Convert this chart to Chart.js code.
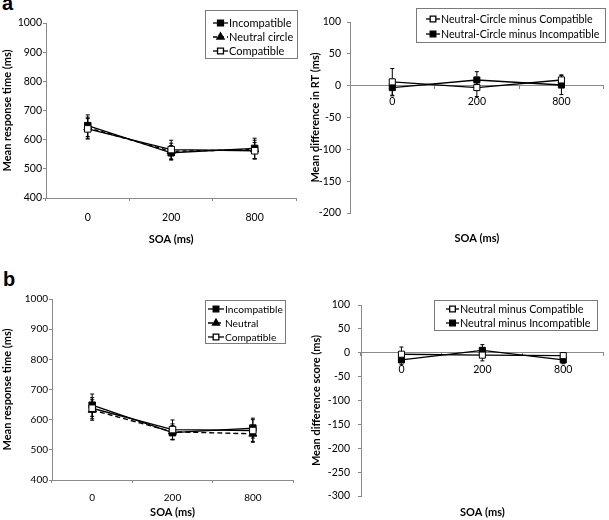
<!DOCTYPE html>
<html>
<head>
<meta charset="utf-8">
<script src="https://cdn.jsdelivr.net/npm/chart.js@4.4.1/dist/chart.umd.min.js"></script>
<style>
  body { margin: 0; background: #fff; }
  #wrap { position: relative; width: 609px; height: 520px; overflow: hidden; }
  #wrap canvas { position: absolute; }
  .tag { position: absolute; font: bold 20px Arial, "Liberation Sans", sans-serif; color: #000; }
</style>
</head>
<body>
<div id="wrap">
  <div class="tag" style="left:2px;top:-8px;">a</div>
  <div class="tag" style="left:3px;top:268px;">b</div>
  <canvas id="aLeft"  width="302" height="250" style="left:0;top:0;"></canvas>
  <canvas id="aRight" width="309" height="250" style="left:300px;top:0;"></canvas>
  <canvas id="bLeft"  width="300" height="260" style="left:0;top:260px;"></canvas>
  <canvas id="bRight" width="309" height="260" style="left:300px;top:260px;"></canvas>
</div>
<script>
// SOA categories, shared by all four panels
const soaLabels = ['0', '200', '800'];

// panel a, left: mean response time (ms) with error bars
const aIncompatible = [648, 555, 570];
const aIncompatibleErr = [37, 25, 35];
const aNeutralCircle = [641, 560, 566];
const aNeutralCircleErr = [36, 28, 32];
const aCompatible = [637, 566, 562];
const aCompatibleErr = [35, 32, 28];

// panel a, right: difference scores
const aNcMinusCompatible = [6, -3, 9];
const aNcMinusCompatibleErr = [21, 14, 8];
const aNcMinusIncompatible = [-3, 9, 1];
const aNcMinusIncompatibleErr = [13, 13, 15];

// panel b, left
const bIncompatible = [648, 557, 572];
const bIncompatibleErr = [37, 24, 33];
const bNeutral = [632, 560, 553];
const bNeutralErr = [34, 26, 28];
const bCompatible = [638, 567, 564];
const bCompatibleErr = [35, 32, 36];

// panel b, right
const bNMinusCompatible = [-3, -5, -6];
const bNMinusCompatibleErr = [15, 12, 6];
const bNMinusIncompatible = [-15, 5, -15];
const bNMinusIncompatibleErr = [10, 12, 8];

// tick ranges
const rtTicks = { min: 400, max: 1000, step: 100 };
const diffTicksA = { min: -200, max: 100, step: 50 };
const diffTicksB = { min: -300, max: 100, step: 50 };

const FONT = 'Lato, "Open Sans", sans-serif';
const AXIS_GREY = '#8a8a8a';

// styles for the three kinds of marker
const filledSquare = { pointStyle: 'rect', pointBackgroundColor: '#000', pointBorderColor: '#000' };
const openSquare = { pointStyle: 'rect', pointBackgroundColor: '#fff', pointBorderColor: '#000' };
const filledTriangle = { pointStyle: 'triangle', pointBackgroundColor: '#000', pointBorderColor: '#000' };

// error bars under the markers
const errorBarPlugin = {
  id: 'errorBars',
  beforeDatasetsDraw(chart) {
    const ctx = chart.ctx;
    const yScale = chart.scales.y;
    chart.data.datasets.forEach((ds, i) => {
      if (!ds.errors) return;
      const meta = chart.getDatasetMeta(i);
      meta.data.forEach((pt, j) => {
        const top = yScale.getPixelForValue(ds.data[j] + ds.errors[j]);
        const bot = yScale.getPixelForValue(ds.data[j] - ds.errors[j]);
        ctx.save();
        ctx.strokeStyle = '#000';
        ctx.lineWidth = 1;
        ctx.beginPath();
        ctx.moveTo(pt.x, top); ctx.lineTo(pt.x, bot);
        ctx.moveTo(pt.x - 2, top); ctx.lineTo(pt.x + 2, top);
        ctx.moveTo(pt.x - 2, bot); ctx.lineTo(pt.x + 2, bot);
        ctx.stroke();
        ctx.restore();
      });
    });
  }
};

// boxed legend drawn at a fixed spot of the canvas
const boxLegendPlugin = {
  id: 'boxLegend',
  afterDraw(chart, args, opts) {
    if (!opts.box) return;
    const ctx = chart.ctx;
    const b = opts.box;
    ctx.save();
    ctx.strokeStyle = '#7a7a7a';
    ctx.lineWidth = 1;
    ctx.fillStyle = '#fff';
    ctx.fillRect(b.x, b.y, b.w, b.h);
    ctx.strokeRect(b.x + 0.5, b.y + 0.5, b.w, b.h);
    ctx.font = opts.fontSize + 'px ' + FONT;
    ctx.textBaseline = 'middle';
    chart.data.datasets.forEach((ds, i) => {
      const y = b.y + opts.firstRow + i * opts.rowGap;
      const x0 = b.x + opts.lineStart;
      const x1 = x0 + opts.lineLen;
      ctx.strokeStyle = '#000';
      ctx.lineWidth = 1.3;
      ctx.setLineDash(ds.borderDash || []);
      ctx.beginPath();
      ctx.moveTo(x0, y); ctx.lineTo(x1, y);
      ctx.stroke();
      ctx.setLineDash([]);
      ctx.fillStyle = ds.pointBackgroundColor;
      ctx.strokeStyle = ds.pointBorderColor;
      Chart.helpers.drawPoint(ctx, {
        pointStyle: ds.pointStyle, radius: opts.markerRadius, rotation: 0, borderWidth: 1
      }, (x0 + x1) / 2, y);
      ctx.fillStyle = '#000';
      ctx.fillText(ds.label, x1 + 1, y + 0.5);
    });
    ctx.restore();
  }
};

function series(label, data, errors, marker, extra) {
  return Object.assign({
    label: label,
    data: data,
    errors: errors,
    borderColor: '#000',
    borderWidth: 1.4,
    pointRadius: 4.6,
    pointBorderWidth: 1,
    tension: 0,
    fill: false
  }, marker, extra || {});
}

function makePanel(id, datasets, p) {
  return new Chart(document.getElementById(id), {
    type: 'line',
    data: { labels: soaLabels, datasets: datasets },
    plugins: [errorBarPlugin, boxLegendPlugin],
    options: {
      responsive: false,
      animation: false,
      events: [],
      layout: { padding: p.padding },
      plugins: {
        legend: { display: false },
        tooltip: { enabled: false },
        boxLegend: p.legend
      },
      scales: {
        x: {
          type: 'category',
          offset: true,
          position: p.xPosition,
          border: { color: AXIS_GREY, width: 1 },
          grid: { display: true, drawOnChartArea: false, offset: true, tickLength: 3, color: AXIS_GREY },
          ticks: { color: '#000', padding: p.xTickPad, font: { family: FONT, size: p.tickSize } },
          title: {
            display: true, text: 'SOA (ms)', color: '#000',
            padding: { top: 0, bottom: p.xTitlePad },
            font: { family: FONT, size: 11, weight: 'bold' }
          },
          afterFit(scale) { scale.height = p.xHeight; }
        },
        y: {
          min: p.yTicks.min,
          max: p.yTicks.max,
          border: { color: AXIS_GREY, width: 1 },
          grid: { display: true, drawOnChartArea: false, tickLength: 3, color: AXIS_GREY },
          ticks: {
            stepSize: p.yTicks.step, color: '#000', padding: p.yTickPad,
            font: { family: FONT, size: p.tickSize },
            callback: (value) => String(value)
          },
          title: {
            display: true, text: p.yTitle, color: '#000',
            padding: { top: p.yTitlePad, bottom: 0 },
            font: { family: FONT, size: 11, weight: 'bold' }
          },
          afterFit(scale) { scale.width = p.yWidth; }
        }
      }
    }
  });
}

// a, left
makePanel('aLeft', [
  series('Incompatible', aIncompatible, aIncompatibleErr, filledSquare, { order: 2 }),
  series('Neutral circle', aNeutralCircle, aNeutralCircleErr, filledTriangle, { borderDash: [4, 3], order: 1 }),
  series('Compatible', aCompatible, aCompatibleErr, openSquare, { order: 0 })
], {
  padding: { top: 23, left: 0, right: 4, bottom: 0 },
  yWidth: 46, xHeight: 52, xPosition: 'bottom',
  xTickPad: 10, xTitlePad: 4, yTickPad: 1, yTitlePad: 1, tickSize: 10.5,
  yTicks: rtTicks, yTitle: 'Mean response time (ms)',
  legend: { box: { x: 205, y: 10, w: 92, h: 48 }, firstRow: 13, rowGap: 14, lineStart: 8, lineLen: 15, markerRadius: 4.2, fontSize: 11 }
});

// a, right
makePanel('aRight', [
  series('Neutral-Circle minus Compatible', aNcMinusCompatible, aNcMinusCompatibleErr, openSquare, { pointRadius: 4.3 }),
  series('Neutral-Circle minus Incompatible', aNcMinusIncompatible, aNcMinusIncompatibleErr, filledSquare, { pointRadius: 4.3 })
], {
  padding: { top: 22, left: 0, right: 4, bottom: 37 },
  yWidth: 50, xHeight: 159, xPosition: { y: 0 },
  xTickPad: 7, xTitlePad: 0, yTickPad: 6, yTitlePad: 9, tickSize: 10.5,
  yTicks: diffTicksA, yTitle: 'Mean difference in RT (ms)',
  legend: { box: { x: 116, y: 8, w: 189, h: 34 }, firstRow: 11, rowGap: 15, lineStart: 10, lineLen: 14, markerRadius: 4, fontSize: 10.6 }
});

// b, left
makePanel('bLeft', [
  series('Incompatible', bIncompatible, bIncompatibleErr, filledSquare, { order: 2 }),
  series('Neutral', bNeutral, bNeutralErr, filledTriangle, { borderDash: [5, 3], order: 1 }),
  series('Compatible', bCompatible, bCompatibleErr, openSquare, { order: 0 })
], {
  padding: { top: 39, left: 0, right: 7, bottom: 0 },
  yWidth: 52, xHeight: 40, xPosition: 'bottom',
  xTickPad: 9, xTitlePad: 1, yTickPad: 1, yTitlePad: 1, tickSize: 10,
  yTicks: rtTicks, yTitle: 'Mean response time (ms)',
  legend: { box: { x: 205, y: 40, w: 80, h: 43 }, firstRow: 9, rowGap: 14, lineStart: 3, lineLen: 16, markerRadius: 4, fontSize: 10.2 }
});

// b, right
makePanel('bRight', [
  series('Neutral minus Compatible', bNMinusCompatible, bNMinusCompatibleErr, openSquare, { pointRadius: 4.3 }),
  series('Neutral minus Incompatible', bNMinusIncompatible, bNMinusIncompatibleErr, filledSquare, { pointRadius: 4.3 })
], {
  padding: { top: 45, left: 0, right: 2, bottom: 24 },
  yWidth: 61, xHeight: 166, xPosition: { y: 0 },
  xTickPad: 8, xTitlePad: 0, yTickPad: 8, yTitlePad: 10, tickSize: 10.5,
  yTicks: diffTicksB, yTitle: 'Mean difference score (ms)',
  legend: { box: { x: 134, y: 40, w: 163, h: 30 }, firstRow: 9, rowGap: 14, lineStart: 12, lineLen: 13, markerRadius: 4, fontSize: 10.8 }
});
</script>
</body>
</html>
